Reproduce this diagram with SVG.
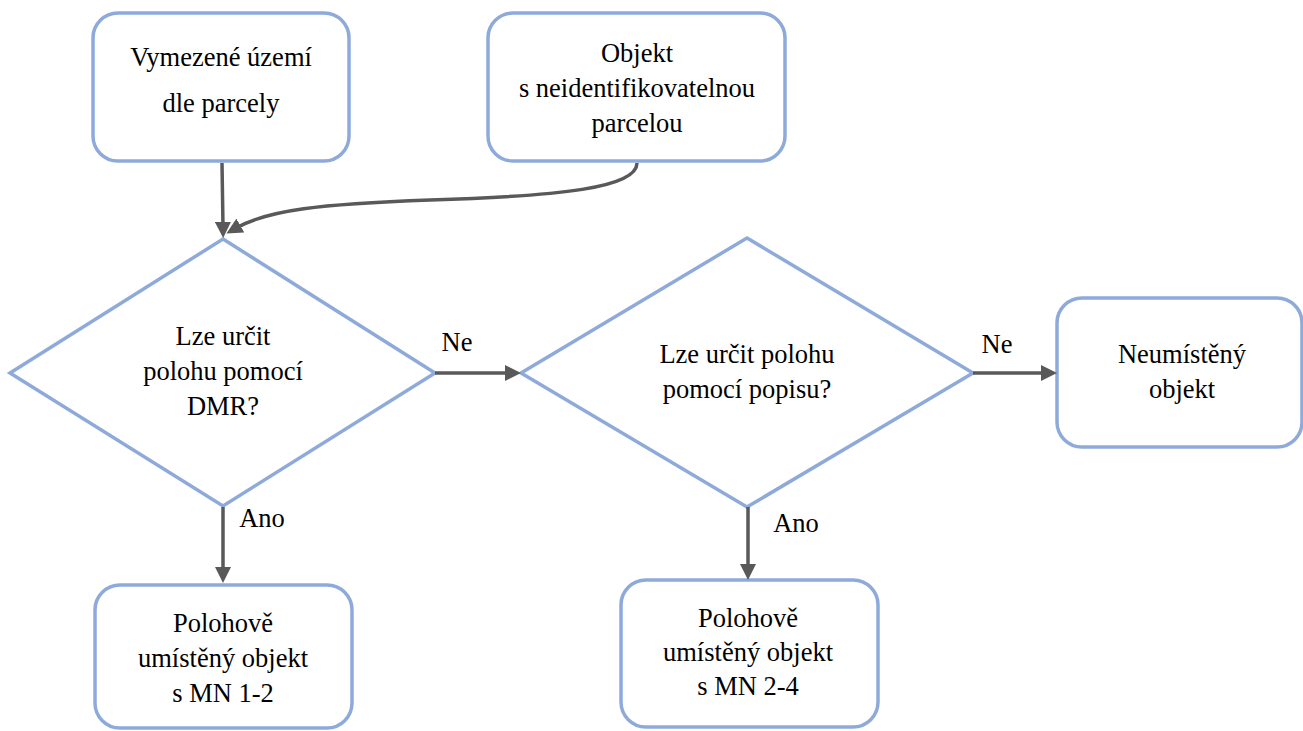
<svg xmlns="http://www.w3.org/2000/svg" width="1303" height="731" viewBox="0 0 1303 731">
<style>
.box{fill:#fff;stroke:#8eaadb;stroke-width:3.5}
.t{font-size:26.5px;fill:#000;text-anchor:middle}
.c{fill:none;stroke:#595959;stroke-width:3.5}
</style>
<defs>
<marker id="ah" markerUnits="userSpaceOnUse" markerWidth="16" markerHeight="16" refX="5" refY="8" orient="auto">
<path d="M0,0 L16,8 L0,16 z" fill="#595959"/>
</marker>
</defs>
<rect width="1303" height="731" fill="#fff"/>
<g font-family="'Times New Roman', 'Liberation Serif', Tinos, 'DejaVu Serif', serif">
<g id="n1">
<rect class="box" x="93" y="13" width="256" height="148" rx="25"/>
<text class="t" x="221" y="66">Vymezené území</text>
<text class="t" x="221" y="112">dle parcely</text>
</g>
<g id="n2">
<rect class="box" x="488" y="13" width="297" height="148" rx="25"/>
<text class="t" x="637" y="62">Objekt</text>
<text class="t" x="637" y="97">s neidentifikovatelnou</text>
<text class="t" x="637" y="132">parcelou</text>
</g>
<g id="d1">
<polygon class="box" points="223,239 435,373 223,506 10,373"/>
<text class="t" x="223" y="345">Lze určit</text>
<text class="t" x="223" y="380">polohu pomocí</text>
<text class="t" x="223" y="415">DMR?</text>
</g>
<g id="d2">
<polygon class="box" points="747,238 973,373 747,507 521,373"/>
<text class="t" x="747" y="363">Lze určit polohu</text>
<text class="t" x="747" y="398">pomocí popisu?</text>
</g>
<g id="n5">
<rect class="box" x="1057" y="298" width="245" height="149" rx="25"/>
<text class="t" x="1182" y="363">Neumístěný</text>
<text class="t" x="1182" y="398">objekt</text>
</g>
<g id="n3">
<rect class="box" x="95" y="585" width="257" height="143" rx="25"/>
<text class="t" x="223" y="632">Polohově</text>
<text class="t" x="223" y="667">umístěný objekt</text>
<text class="t" x="223" y="702">s MN 1-2</text>
</g>
<g id="n4">
<rect class="box" x="621" y="580" width="257" height="147" rx="25"/>
<text class="t" x="748" y="627">Polohově</text>
<text class="t" x="748" y="661">umístěný objekt</text>
<text class="t" x="748" y="695">s MN 2-4</text>
</g>
<g id="connectors">
<path class="c" d="M222,163 L223,227" marker-end="url(#ah)"/>
<path class="c" d="M637,163 C637,188 560,196 430,200 C320,204 268,210 236,228" marker-end="url(#ah)"/>
<path class="c" d="M435,373 L510,373" marker-end="url(#ah)"/>
<path class="c" d="M973,373 L1046,373" marker-end="url(#ah)"/>
<path class="c" d="M223,507 L223,572" marker-end="url(#ah)"/>
<path class="c" d="M748,507 L748,569" marker-end="url(#ah)"/>
<text class="t" x="457" y="351">Ne</text>
<text class="t" x="997" y="353">Ne</text>
<text class="t" x="262" y="527">Ano</text>
<text class="t" x="796" y="532">Ano</text>
</g>
</g>
</svg>
